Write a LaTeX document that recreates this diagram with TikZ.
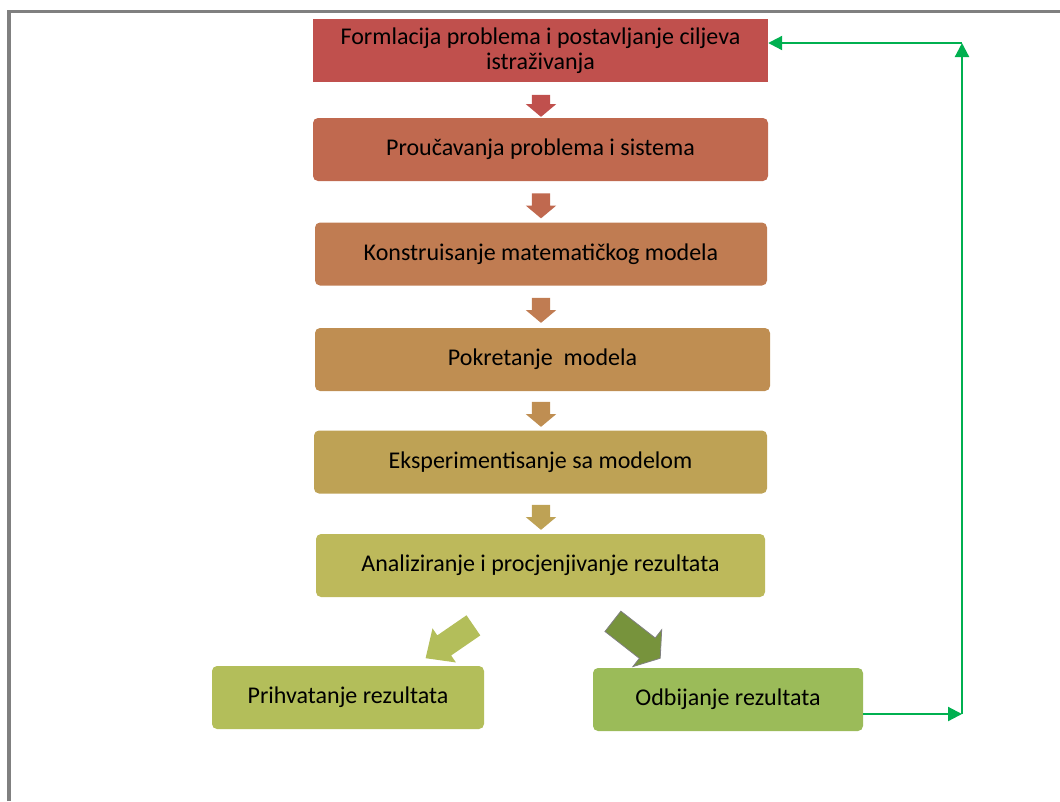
\documentclass[tikz,border=0pt]{standalone}
\usepackage{fontspec}
\setmainfont{Carlito}
\usetikzlibrary{shapes.arrows,arrows.meta}

\definecolor{stepA}{HTML}{C0504D}
\definecolor{stepB}{HTML}{C0694F}
\definecolor{stepC}{HTML}{C07C52}
\definecolor{stepD}{HTML}{BF8E52}
\definecolor{stepE}{HTML}{BEA255}
\definecolor{stepF}{HTML}{BDB95B}
\definecolor{stepG}{HTML}{B3BE5A}
\definecolor{stepH}{HTML}{9BBB59}
\definecolor{rejectarrow}{HTML}{77933C}
\definecolor{loopgreen}{HTML}{00B050}
\definecolor{framegray}{HTML}{808080}

\tikzset{
  box/.style={rectangle, rounded corners=5pt, inner sep=0pt, align=center,
    minimum height=63pt, font=\fontsize{24}{25}\selectfont},
  downarrow/.style={single arrow, single arrow head extend=6pt, inner xsep=0pt,
    inner ysep=9pt, minimum height=25pt, single arrow tip angle=100,
    rotate=270},
  loop/.style={draw=loopgreen, line width=2.2pt, -{Triangle[length=14pt,width=14pt]}}
}

\begin{document}
\begin{tikzpicture}[x=1pt,y=-1pt]
    \useasboundingbox (0,0) rectangle (1060,801);
    % Frame
    \draw[framegray, line width=3.5pt] (9,801) -- (9,11.5) -- (1060,11.5);
    % Steps
    \node[box, rounded corners=0pt, fill=stepA, minimum width=455pt] (form) at (540.5,50.5)
        {Formlacija problema i postavljanje ciljeva\\istraživanja};
    \node[box, fill=stepB, minimum width=455pt] (prouc) at (540.5,149.5) {Proučavanja problema i sistema};
    \node[box, fill=stepC, minimum width=452pt] (konstr) at (541,254) {Konstruisanje matematičkog modela};
    \node[box, fill=stepD, minimum width=455pt] (pokret) at (542.5,359.5) {Pokretanje\ \ modela};
    \node[box, fill=stepE, minimum width=453pt] (eksper) at (540.5,462) {Eksperimentisanje sa modelom};
    \node[box, fill=stepF, minimum width=449pt] (analiz) at (540.5,565.5) {Analiziranje i procjenjivanje rezultata};
    \node[box, fill=stepG, minimum width=272pt] (prihv) at (348,697.5) {Prihvatanje rezultata};
    \node[box, fill=stepH, minimum width=270pt] (odbij) at (728,699.5) {Odbijanje rezultata};
    % Block arrows
    \node[downarrow, fill=stepA, minimum height=22pt] (arrA) at (541,102) {};
    \node[downarrow, fill=stepB] (arrB) at (541,202) {};
    \node[downarrow, fill=stepC] (arrC) at (541,306.5) {};
    \node[downarrow, fill=stepD] (arrD) at (541,410.5) {};
    \node[downarrow, fill=stepE] (arrE) at (541,513.5) {};
    \node[single arrow, fill=stepG, inner xsep=0pt, inner ysep=12pt, minimum height=58pt,
        single arrow head extend=8.5pt, single arrow tip angle=85,
        rotate=214.5] (arrAcc) at (455,638) {};
    \node[single arrow, fill=rejectarrow, draw=framegray, line width=0.8pt, inner xsep=0pt,
        inner ysep=12.5pt, minimum height=60pt, single arrow head extend=10.5pt,
        single arrow tip angle=110, rotate=-38] (arrRej) at (633,637) {};
    % Loop back
    \coordinate (loopB) at (962,714);
    \coordinate (loopT) at (962,43);
    \draw[loop] (odbij.east |- loopB) -- (loopB);
    \draw[loop] (loopB) -- (loopT);
    \draw[loop] (loopT) -- (form.east |- loopT);
\end{tikzpicture}
\end{document}
